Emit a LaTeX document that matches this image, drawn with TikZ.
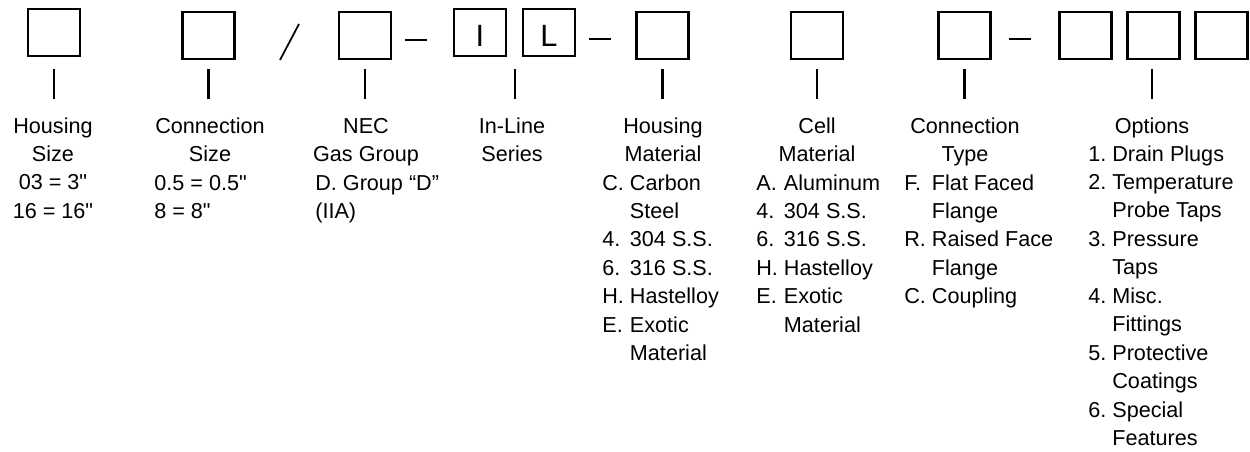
\documentclass[tikz,border=0pt]{standalone}
\usepackage{fontspec}
\setmainfont{Liberation Sans}[Ligatures=TeXOff]
\newcommand{\headtab}[1]{\begin{tabular}[t]{@{}c@{}}#1\end{tabular}}
\newcommand{\listtab}[1]{\begin{tabular}[t]{@{}l@{\ }l@{}}#1\end{tabular}}
\begin{document}
\begin{tikzpicture}[
    x=0.02cm, y=-0.02cm,
    slot/.style={draw, line width=1.5pt, minimum width=1.04cm, minimum height=0.94cm, inner sep=0pt},
    letter/.style={font=\fontsize{17.5}{20}\selectfont, inner sep=0pt},
    tick/.style={line width=1.4pt},
    sep/.style={line width=1.2pt},
    head/.style={anchor=base, inner sep=0pt, font=\fontsize{12.3}{16.2}\selectfont},
    items/.style={anchor=base west, inner sep=0pt, font=\fontsize{12.3}{16.2}\selectfont}
]
    \useasboundingbox (0,0) rectangle (1250,451);

    % Code boxes
    \node[slot] (bHS) at (54,32.5) {};
    \node[slot] (bCS) at (208.5,35.5) {};
    \node[slot] (bNEC) at (365,35.5) {};
    \node[slot] (bI) at (480,32.5) {};
    \node[slot] (bL) at (549,32.5) {};
    \node[slot] (bHM) at (662.5,35.5) {};
    \node[slot] (bCM) at (817,35.5) {};
    \node[slot] (bCT) at (964.5,35.5) {};
    \node[slot] (bO1) at (1085.5,35.5) {};
    \node[slot] (bO2) at (1153.5,35.5) {};
    \node[slot] (bO3) at (1221.5,35.5) {};

    % Fixed letters
    \node[letter] (lI) at (480,36) {I};
    \node[letter] (lL) at (549,36) {L};

    % Separators
    \draw[line width=1pt] (280,60) -- (299,24);
    \draw[sep] (405,40) -- (427,40);
    \draw[sep] (589,39) -- (611,39);
    \draw[sep] (1009,39) -- (1031,39);

    % Ticks under the boxes
    \draw[tick] (bHS.south |- 0,69) -- ++(0,30);
    \draw[tick] (bCS.south |- 0,69) -- ++(0,30);
    \draw[tick] (bNEC.south |- 0,69) -- ++(0,30);
    \draw[tick] (515,69) -- (515,99);
    \draw[tick] (bHM.south |- 0,69) -- ++(0,30);
    \draw[tick] (bCM.south |- 0,69) -- ++(0,30);
    \draw[tick] (bCT.south |- 0,69) -- ++(0,30);
    \draw[tick] (1152,69) -- (1152,99);

    % Housing size
    \node[head] (hsHead) at (53,133) {\headtab{Housing\\Size\\03 = 3"\\16 = 16"}};

    % Connection size
    \node[head] (csHead) at (210,133) {\headtab{Connection\\Size}};
    \node[items] (csList) at (154,190) {\listtab{0.5 = 0.5"\\8 = 8"}};

    % Gas group
    \node[head] (necHead) at (366,133) {\headtab{NEC\\Gas Group}};
    \node[items] (necList) at (315,190) {\listtab{D. Group “D”\\(IIA)}};

    % Series
    \node[head] (ilHead) at (512,133) {\headtab{In-Line\\Series}};

    % Housing material
    \node[head] (hmHead) at (663,133) {\headtab{Housing\\Material}};
    \node[items] (hmList) at (602,190) {\listtab{C. & Carbon\\ & Steel\\4. & 304 S.S.\\6. & 316 S.S.\\H. & Hastelloy\\E. & Exotic\\ & Material}};

    % Cell material
    \node[head] (cmHead) at (817,133) {\headtab{Cell\\Material}};
    \node[items] (cmList) at (756,190) {\listtab{A. & Aluminum\\4. & 304 S.S.\\6. & 316 S.S.\\H. & Hastelloy\\E. & Exotic\\ & Material}};

    % Connection type
    \node[head] (ctHead) at (965,133) {\headtab{Connection\\Type}};
    \node[items] (ctList) at (904,190) {\listtab{F. & Flat Faced\\ & Flange\\R. & Raised Face\\ & Flange\\C. & Coupling}};

    % Options
    \node[head] (opHead) at (1152,133) {\headtab{Options}};
    \node[items] (opList) at (1088,161) {\listtab{1. & Drain Plugs\\2. & Temperature\\ & Probe Taps\\3. & Pressure\\ & Taps\\4. & Misc.\\ & Fittings\\5. & Protective\\ & Coatings\\6. & Special\\ & Features}};

\end{tikzpicture}
\end{document}
